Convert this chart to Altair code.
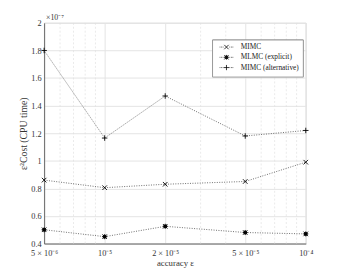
import json
import altair as alt
import pandas as pd

# ---- data (values in units of 1e-7) ----
accuracy = [5e-6, 1e-5, 2e-5, 5e-5, 1e-4]
series_names = ["MIMC", "MLMC (explicit)", "MIMC (alternative)"]
mimc = [0.86, 0.805, 0.83, 0.85, 0.99]
mlmc_explicit = [0.50, 0.45, 0.525, 0.48, 0.47]
mimc_alternative = [1.80, 1.165, 1.47, 1.18, 1.22]

x_ticks = [5e-6, 1e-5, 2e-5, 5e-5, 1e-4]
x_tick_labels = ["5 × 10⁻⁶", "10⁻⁵", "2 × 10⁻⁵", "5 × 10⁻⁵", "10⁻⁴"]
x_minor = [6e-6, 7e-6, 8e-6, 9e-6, 3e-5, 4e-5, 6e-5, 7e-5, 8e-5, 9e-5]
y_ticks = [0.4, 0.6, 0.8, 1.0, 1.2, 1.4, 1.6, 1.8, 2.0]
exponent_note = ["×10⁻⁷"]

rows = []
for name, vals in zip(series_names, [mimc, mlmc_explicit, mimc_alternative]):
    for a, v in zip(accuracy, vals):
        rows.append({"accuracy": a, "cost": v, "series": name})
df = pd.DataFrame(rows)
minor_df = pd.DataFrame({"accuracy": x_minor})
note_df = pd.DataFrame({"t": exponent_note})

FONT = "Liberation Serif"

x_scale = alt.Scale(type="log", domain=[5e-6, 1e-4], nice=False)
y_scale = alt.Scale(domain=[0.4, 2.0], nice=False)

label_expr = f"{json.dumps(x_tick_labels, ensure_ascii=False)}[indexof({json.dumps(x_ticks)}, datum.value)]"

x_axis = alt.Axis(values=x_ticks, labelExpr=label_expr, title="accuracy ε",
                  grid=True, gridColor="#e3e3e3", tickSize=0, labelPadding=5,
                  titlePadding=2, labelOverlap=False, labelFlush=False)
y_axis = alt.Axis(values=y_ticks, format="~g", title="ε²Cost (CPU time)",
                  grid=True, gridColor="#e3e3e3", tickSize=0, labelPadding=3,
                  titlePadding=2, titleFontSize=10, labelOverlap=False, labelFlush=False)

# marker shapes
shape_x = "M-1,-1L1,1M-1,1L1,-1"
shape_star = "M-0.55,-0.55L0.55,-0.55L0.55,0.55L-0.55,0.55Z M-1,-1L1,1M-1,1L1,-1M-1.1,0L1.1,0M0,-1.1L0,1.1"
shape_plus = "M-1.2,0L1.2,0M0,-1.2L0,1.2"

# legend shapes: marker with dotted line on both sides
dots = "".join(f"M{p:.2f},0h0.3" for p in [-3.1, -2.4, -1.7, 1.4, 2.1, 2.8])
legend_shapes = [s + dots for s in [shape_x, shape_star, shape_plus]]

minor_grid = alt.Chart(minor_df).mark_rule(
    color="#e0e0e0", strokeDash=[2, 2], strokeWidth=0.7
).encode(x=alt.X("accuracy:Q", scale=x_scale, axis=x_axis))

lines = alt.Chart(df).mark_line(
    color="#444444", strokeDash=[1, 1.5], strokeWidth=0.8
).encode(
    x=alt.X("accuracy:Q", scale=x_scale, axis=x_axis),
    y=alt.Y("cost:Q", scale=y_scale, axis=y_axis),
    detail="series:N",
)

points = alt.Chart(df).mark_point(
    filled=False, fill="black", stroke="black", strokeWidth=0.9, opacity=1, size=22
).encode(
    x=alt.X("accuracy:Q", scale=x_scale, axis=x_axis),
    y=alt.Y("cost:Q", scale=y_scale, axis=y_axis),
    shape=alt.Shape(
        "series:N",
        scale=alt.Scale(domain=series_names, range=[shape_x, shape_star, shape_plus]),
        legend=None,
    ),
)

legend_cfg = alt.Legend(
    title=None, orient="none", legendX=172, legendY=17,
    fillColor="white", strokeColor="#999999", padding=4,
    labelFont=FONT, labelFontSize=7.5, labelColor="#222222",
    symbolSize=20, symbolStrokeWidth=0.8,
    symbolStrokeColor="black", rowPadding=1.5, labelOffset=11, symbolOffset=7,
)

legend_layer = alt.Chart(df).transform_filter("false").mark_point(
    filled=False, strokeWidth=0.8, opacity=1, size=20
).encode(
    x=alt.X("accuracy:Q", scale=x_scale, axis=x_axis),
    y=alt.Y("cost:Q", scale=y_scale, axis=y_axis),
    shape=alt.Shape("series:N",
                    scale=alt.Scale(domain=series_names, range=legend_shapes),
                    legend=legend_cfg),
    color=alt.Color("series:N",
                    scale=alt.Scale(domain=series_names, range=["black"] * 3),
                    legend=legend_cfg),
)

note = alt.Chart(note_df).mark_text(
    font=FONT, fontSize=8, color="#333333", align="left", baseline="bottom"
).encode(text="t:N", x=alt.value(2), y=alt.value(-1))

chart = alt.layer(minor_grid, lines, points, legend_layer, note).resolve_scale(
    shape="independent"
).properties(
    width=268, height=226,
    autosize=alt.AutoSizeParams(type="none"),
    padding={"left": 37, "top": 12, "right": 33, "bottom": 31},
).configure_axis(
    labelFont=FONT, titleFont=FONT, labelFontSize=8.5, titleFontSize=9,
    titleFontWeight="normal", labelColor="#333333", titleColor="#333333",
    domainColor="#666666", tickColor="#666666",
).configure_view(stroke="#cccccc", strokeWidth=0.8)

chart.save("out.html", embed_options={"renderer": "svg", "actions": False})
